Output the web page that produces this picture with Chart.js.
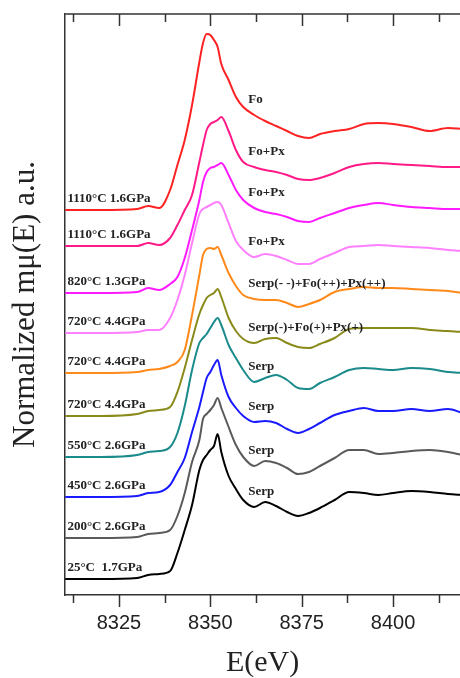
<!DOCTYPE html>
<html>
<head>
<meta charset="utf-8">
<script src="https://cdn.jsdelivr.net/npm/chart.js@4.4.1/dist/chart.umd.min.js"></script>
<style>
  html, body { margin: 0; padding: 0; background: #fff; }
  #wrap { width: 460px; height: 678px; position: relative; }
</style>
</head>
<body>
<div id="wrap"><canvas id="xanesChart"></canvas></div>
<script>
// energy grid (eV)
const energy = [8310, 8320, 8330, 8333, 8336, 8339, 8341, 8343, 8345, 8347, 8348, 8349, 8350, 8351, 8352, 8353, 8355, 8357, 8359, 8362, 8365, 8368, 8371, 8374, 8377, 8380, 8384, 8388, 8392, 8396, 8400, 8405, 8410, 8415, 8419];

// stacked normalized spectra, top to bottom
const fo1110a = [3.85, 3.85, 3.86, 3.89, 3.87, 4.05, 4.30, 4.55, 4.90, 5.33, 5.52, 5.61, 5.60, 5.55, 5.48, 5.31, 5.15, 4.98, 4.88, 4.80, 4.74, 4.69, 4.64, 4.59, 4.57, 4.61, 4.64, 4.66, 4.71, 4.72, 4.71, 4.68, 4.64, 4.67, 4.66];
const fo1110b = [3.49, 3.49, 3.49, 3.52, 3.50, 3.57, 3.70, 3.85, 4.00, 4.33, 4.50, 4.65, 4.71, 4.73, 4.75, 4.78, 4.64, 4.45, 4.33, 4.28, 4.25, 4.23, 4.20, 4.16, 4.15, 4.17, 4.22, 4.28, 4.31, 4.32, 4.31, 4.30, 4.29, 4.28, 4.28];
const fo820 = [3.02, 3.02, 3.03, 3.07, 3.05, 3.11, 3.18, 3.37, 3.65, 3.95, 4.13, 4.23, 4.27, 4.28, 4.30, 4.32, 4.20, 4.05, 3.95, 3.87, 3.83, 3.81, 3.78, 3.74, 3.73, 3.77, 3.82, 3.87, 3.90, 3.92, 3.90, 3.88, 3.87, 3.86, 3.86];
const fo720 = [2.62, 2.62, 2.63, 2.65, 2.65, 2.77, 2.95, 3.20, 3.52, 3.81, 3.86, 3.88, 3.90, 3.92, 3.93, 3.90, 3.72, 3.54, 3.45, 3.38, 3.41, 3.39, 3.35, 3.31, 3.31, 3.36, 3.42, 3.48, 3.49, 3.50, 3.49, 3.48, 3.47, 3.45, 3.44];
const mix720a = [2.22, 2.22, 2.23, 2.25, 2.26, 2.29, 2.33, 2.45, 2.80, 3.20, 3.40, 3.46, 3.47, 3.46, 3.48, 3.40, 3.22, 3.09, 3.00, 2.96, 2.95, 2.95, 2.92, 2.88, 2.91, 2.95, 3.03, 3.06, 3.08, 3.07, 3.07, 3.06, 3.05, 3.04, 3.02];
const mix720b = [1.79, 1.79, 1.81, 1.84, 1.85, 1.88, 2.03, 2.27, 2.55, 2.81, 2.90, 2.97, 3.00, 3.02, 3.06, 2.98, 2.77, 2.64, 2.56, 2.52, 2.56, 2.57, 2.52, 2.48, 2.47, 2.51, 2.57, 2.66, 2.67, 2.67, 2.67, 2.67, 2.65, 2.64, 2.63];
const serp550 = [1.38, 1.38, 1.40, 1.43, 1.44, 1.48, 1.62, 1.89, 2.25, 2.52, 2.57, 2.61, 2.67, 2.73, 2.77, 2.70, 2.50, 2.37, 2.25, 2.13, 2.17, 2.20, 2.15, 2.07, 2.06, 2.12, 2.18, 2.25, 2.27, 2.26, 2.25, 2.27, 2.26, 2.23, 2.22];
const serp450 = [0.98, 0.98, 0.99, 1.02, 1.03, 1.10, 1.23, 1.37, 1.63, 1.88, 2.03, 2.17, 2.23, 2.30, 2.35, 2.20, 1.98, 1.87, 1.79, 1.73, 1.74, 1.72, 1.66, 1.62, 1.66, 1.72, 1.80, 1.84, 1.87, 1.84, 1.84, 1.86, 1.84, 1.86, 1.82];
const serp200 = [0.57, 0.57, 0.58, 0.61, 0.62, 0.65, 0.79, 1.02, 1.33, 1.55, 1.76, 1.81, 1.85, 1.90, 1.97, 1.87, 1.68, 1.50, 1.38, 1.29, 1.34, 1.32, 1.27, 1.21, 1.23, 1.29, 1.37, 1.45, 1.45, 1.41, 1.42, 1.44, 1.45, 1.43, 1.40];
const serp25 = [0.16, 0.16, 0.17, 0.20, 0.21, 0.24, 0.42, 0.65, 0.90, 1.25, 1.35, 1.40, 1.45, 1.49, 1.61, 1.43, 1.19, 1.06, 0.95, 0.88, 0.93, 0.89, 0.83, 0.79, 0.82, 0.87, 0.95, 1.03, 1.02, 1.00, 1.02, 1.04, 1.03, 1.01, 1.00];

const sampleLabels = ['1110°C 1.6GPa', '1110°C 1.6GPa', '820°C 1.3GPa', '720°C 4.4GPa', '720°C 4.4GPa', '720°C 4.4GPa', '550°C 2.6GPa', '450°C 2.6GPa', '200°C 2.6GPa', '25°C  1.7GPa'];
const phaseLabels = ['Fo', 'Fo+Px', 'Fo+Px', 'Fo+Px', 'Serp(- -)+Fo(++)+Px(++)', 'Serp(-)+Fo(+)+Px(+)', 'Serp', 'Serp', 'Serp', 'Serp'];
const xTickValues = [8325, 8350, 8375, 8400];

const series = [fo1110a, fo1110b, fo820, fo720, mix720a, mix720b, serp550, serp450, serp200, serp25];
const colors = ['#ff2222', '#ff1a88', '#ff1aff', '#ff80ff', '#ff8a1a', '#8a8a1a', '#1a8a8a', '#1a1aff', '#5a5a5a', '#000000'];

const axisColor = '#333';

// ticks on bottom (outward) and top (inward), plus top frame line
const frameTicks = {
    id: 'frameTicks',
    afterDraw(chart) {
        const { ctx, chartArea, scales: { x } } = chart;
        ctx.save();
        ctx.strokeStyle = axisColor;
        ctx.lineWidth = 1.5;
        ctx.beginPath();
        ctx.moveTo(chartArea.left, chartArea.top);
        ctx.lineTo(chartArea.right, chartArea.top);
        x.ticks.forEach(t => {
            const px = Math.round(x.getPixelForValue(t.value)) + 0.5;
            const len = t.value % 25 === 0 ? 12 : 8;
            ctx.moveTo(px, chartArea.bottom);
            ctx.lineTo(px, chartArea.bottom + len);
            ctx.moveTo(px, chartArea.top);
            ctx.lineTo(px, chartArea.top + len);
        });
        ctx.stroke();
        ctx.restore();
    }
};

// sample and phase annotations next to each spectrum
const curveLabels = {
    id: 'curveLabels',
    afterDatasetsDraw(chart) {
        const { ctx, scales: { x, y } } = chart;
        const iRight = energy.indexOf(8362);
        ctx.save();
        ctx.font = 'bold 13px "Liberation Serif"';
        ctx.fillStyle = '#222';
        ctx.textBaseline = 'middle';
        ctx.textAlign = 'left';
        series.forEach((s, i) => {
            ctx.fillText(sampleLabels[i], x.getPixelForValue(8310.9), y.getPixelForValue(s[0]) - 11);
            ctx.fillText(phaseLabels[i], x.getPixelForValue(8360.4), y.getPixelForValue(s[iRight]) - 15.5);
        });
        ctx.restore();
    }
};

const ctx = document.getElementById('xanesChart').getContext('2d');
const xanesChart = new Chart(ctx, {
    type: 'line',
    data: {
        datasets: series.map((s, i) => ({
            label: sampleLabels[i],
            data: energy.map((e, j) => ({ x: e, y: s[j] })),
            borderColor: colors[i],
            borderWidth: 2,
            pointRadius: 0,
            cubicInterpolationMode: 'monotone',
            fill: false
        }))
    },
    options: {
        responsive: true,
        maintainAspectRatio: false,
        animation: false,
        layout: { padding: { top: 14, left: 0, right: 0, bottom: 0 } },
        plugins: { legend: { display: false }, tooltip: { enabled: false } },
        scales: {
            x: {
                type: 'linear',
                min: 8310.3,
                max: 8418.3,
                grid: { display: false, drawTicks: false },
                border: { display: true, color: axisColor, width: 1.5 },
                ticks: {
                    stepSize: 12.5,
                    includeBounds: false,
                    autoSkip: false,
                    maxRotation: 0,
                    padding: 16,
                    color: '#222',
                    font: { family: '"Liberation Sans"', size: 20 },
                    callback: v => xTickValues.includes(v) ? String(v) : ''
                },
                title: {
                    display: true,
                    text: 'E(eV)',
                    color: '#222',
                    font: { family: '"Liberation Serif"', size: 30, lineHeight: 0.5 },
                    padding: { top: 5, bottom: 7 }
                }
            },
            y: {
                min: 0,
                max: 5.81,
                grid: { display: false, drawTicks: false },
                border: { display: true, color: axisColor, width: 1.5 },
                ticks: { display: false },
                title: {
                    display: true,
                    text: 'Normalized mμ(E) a.u.',
                    color: '#222',
                    font: { family: '"Liberation Serif"', size: 31 },
                    padding: { top: 7, bottom: 21 }
                }
            }
        }
    },
    plugins: [frameTicks, curveLabels]
});
</script>
</body>
</html>
